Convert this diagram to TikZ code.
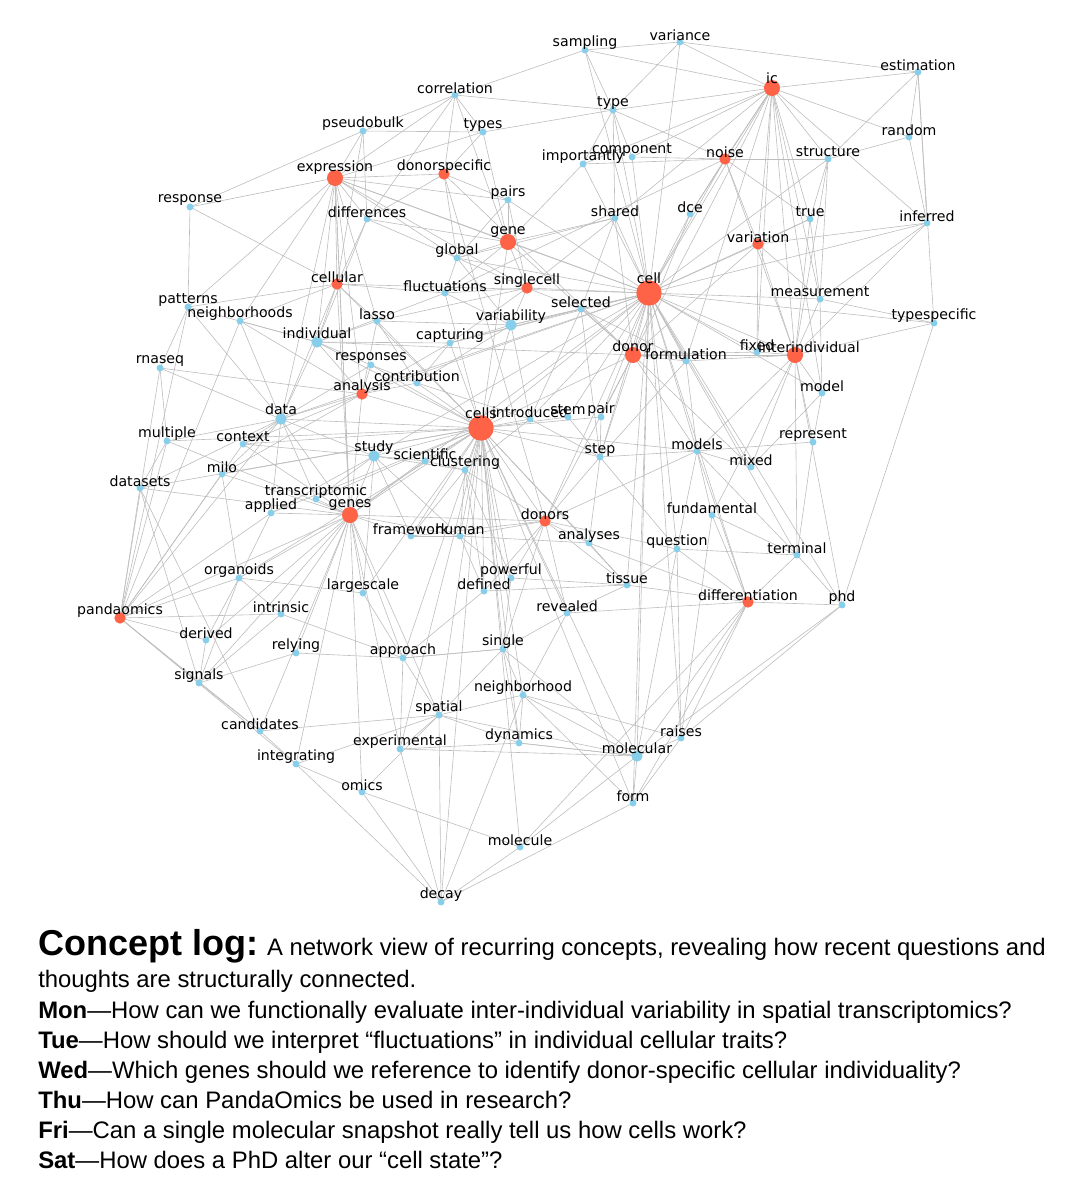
\documentclass[tikz,border=0pt]{standalone}
\usepackage{fontspec}
\setmainfont{Liberation Sans}
\newfontfamily\labfont{DejaVu Sans}
\usetikzlibrary{backgrounds}
\definecolor{sky}{HTML}{87CEEB}
\definecolor{tom}{HTML}{FF6347}
\definecolor{edg}{HTML}{BDBDBD}
\tikzset{
 b/.style={circle,fill=sky,inner sep=0pt,minimum size=5.2pt},
 bm/.style={circle,fill=sky,inner sep=0pt,minimum size=8.5pt},
 ra/.style={circle,fill=tom,inner sep=0pt,minimum size=8.5pt},
 rb/.style={circle,fill=tom,inner sep=0pt,minimum size=12pt},
 rc/.style={circle,fill=tom,inner sep=0pt,minimum size=19pt},
 lab/.style={font=\labfont\fontsize{10.6pt}{11pt}\selectfont,inner sep=0pt,text=black},
 edge/.style={draw=edg,line width=0.45pt},
 captext/.style={anchor=base west,inner sep=0pt,font=\fontsize{17.9pt}{20pt}\selectfont}
}
\newcommand\N[5]{\node[#4] (#1) at (#2,#3+7) {}; \node[lab] (#1l) at (#2,#3) {#5};}
\newcommand\M[7]{\node[#4] (#1) at (#2,#3) {}; \node[lab] (#1l) at (#6,#7) {#5};}
\begin{document}
\begin{tikzpicture}[x=0.75pt,y=-0.75pt]
\path[use as bounding box] (0,0) rectangle (1086,1200);
\N{sampling}{585}{43}{b}{sampling}
\N{variance}{680}{35}{b}{variance}
\N{estimation}{918}{65}{b}{estimation}
\M{ic}{772}{88}{rb}{ic}{772}{78}
\N{correlation}{455}{88}{b}{correlation}
\N{type}{613}{103}{b}{type}
\N{random}{909}{130}{b}{random}
\N{pseudobulk}{363}{124}{b}{pseudobulk}
\N{types}{483}{125}{b}{types}
\N{component}{632}{150}{b}{component}
\N{importantly}{583}{157}{b}{importantly}
\N{noise}{725}{152}{ra}{noise}
\N{structure}{828}{152}{b}{structure}
\M{expression}{335}{178}{rb}{expression}{335}{168}
\N{donorspecific}{444}{167}{ra}{donorspecific}
\N{response}{190}{200}{b}{response}
\N{pairs}{508}{193}{b}{pairs}
\N{shared}{615}{211}{b}{shared}
\N{dce}{690}{207}{b}{dce}
\N{true}{810}{212}{b}{true}
\N{inferred}{927}{216}{b}{inferred}
\N{differences}{367}{212}{b}{differences}
\M{gene}{508}{242}{rb}{gene}{508}{232}
\N{variation}{758}{237}{ra}{variation}
\N{global}{457}{251}{b}{global}
\N{cellular}{337}{277}{ra}{cellular}
\N{singlecell}{527}{281}{ra}{singlecell}
\M{cell}{649}{293}{rc}{cell}{649}{278}
\N{fluctuations}{445}{286}{b}{fluctuations}
\N{patterns}{188}{300}{b}{patterns}
\N{selected}{581}{302}{b}{selected}
\N{measurement}{820}{292}{b}{measurement}
\N{neighborhoods}{240}{314}{b}{neighborhoods}
\N{lasso}{377}{314}{b}{lasso}
\M{variability}{511}{325}{bm}{variability}{511}{317}
\N{typespecific}{934}{316}{b}{typespecific}
\M{individual}{317}{342}{bm}{individual}{317}{333}
\N{capturing}{450}{336}{b}{capturing}
\M{donor}{633}{355}{rb}{donor}{633}{346}
\N{formulation}{686}{354}{b}{formulation}
\N{fixed}{757}{345}{b}{fixed}
\M{interind}{795}{355}{rb}{interindividual}{809}{347}
\N{rnaseq}{160}{361}{b}{rnaseq}
\N{responses}{371}{358}{b}{responses}
\N{contribution}{417}{376}{b}{contribution}
\N{analysis}{362}{387}{ra}{analysis}
\N{model}{822}{386}{b}{model}
\M{data}{281}{419}{bm}{data}{281}{409}
\M{cells}{481}{428}{rc}{cells}{481}{413}
\N{introduced}{530}{412}{b}{introduced}
\N{stem}{568}{410}{b}{stem}
\N{pair}{601}{410}{b}{pair}
\N{multiple}{167}{434}{b}{multiple}
\N{context}{243}{437}{b}{context}
\N{represent}{813}{435}{b}{represent}
\M{study}{374}{456}{bm}{study}{374}{448}
\N{scientific}{425}{454}{b}{scientific}
\N{clustering}{465}{463}{b}{clustering}
\N{step}{600}{450}{b}{step}
\N{models}{697}{444}{b}{models}
\N{mixed}{751}{460}{b}{mixed}
\N{milo}{222}{467}{b}{milo}
\N{datasets}{140}{481}{b}{datasets}
\N{transcriptomic}{316}{492}{b}{transcriptomic}
\N{applied}{271}{506}{b}{applied}
\M{genes}{350}{515}{rb}{genes}{350}{505}
\N{donors}{545}{514}{ra}{donors}
\N{fundamental}{712}{508}{b}{fundamental}
\N{framework}{411}{529}{b}{framework}
\N{human}{460}{529}{b}{human}
\N{analyses}{589}{536}{b}{analyses}
\N{question}{677}{542}{b}{question}
\N{terminal}{797}{548}{b}{terminal}
\N{organoids}{239}{571}{b}{organoids}
\N{powerful}{511}{571}{b}{powerful}
\N{largescale}{363}{586}{b}{largescale}
\N{defined}{484}{584}{b}{defined}
\N{tissue}{627}{578}{b}{tissue}
\N{differentiation}{748}{595}{ra}{differentiation}
\N{phd}{842}{598}{b}{phd}
\N{pandaomics}{120}{611}{ra}{pandaomics}
\N{intrinsic}{281}{607}{b}{intrinsic}
\N{revealed}{567}{606}{b}{revealed}
\N{derived}{206}{633}{b}{derived}
\N{relying}{296}{646}{b}{relying}
\N{approach}{403}{651}{b}{approach}
\N{single}{503}{642}{b}{single}
\N{signals}{199}{676}{b}{signals}
\N{neighborhood}{523}{688}{b}{neighborhood}
\N{spatial}{439}{708}{b}{spatial}
\N{candidates}{260}{724}{b}{candidates}
\N{raises}{681}{731}{b}{raises}
\N{experimental}{400}{742}{b}{experimental}
\N{dynamics}{519}{736}{b}{dynamics}
\M{molecular}{637}{756}{bm}{molecular}{637}{748}
\N{integrating}{296}{757}{b}{integrating}
\N{omics}{362}{785}{b}{omics}
\N{form}{633}{796}{b}{form}
\N{molecule}{520}{840}{b}{molecule}
\N{decay}{441}{895}{b}{decay}
\begin{scope}[on background layer]
\foreach \h/\l in {
cell/{ic,noise,variation,donor,interind,cells,gene,singlecell,type,variance,sampling,selected,measurement,formulation,fixed,dce,shared,true,structure,step,models,model,mixed,donors,tissue,differentiation,phd,molecular,raises,question,capturing,variability,cellular,expression,data,analysis,study,genes,terminal,typespecific,inferred,component,importantly,pairs,stem,pair,introduced,global,form},
cells/{data,analysis,study,clustering,scientific,genes,donors,introduced,stem,pair,step,human,framework,transcriptomic,context,multiple,datasets,milo,single,spatial,powerful,defined,revealed,molecular,dynamics,form,neighborhood,cellular,individual,gene,donor,variability,lasso,fluctuations,responses,contribution,capturing,applied,organoids,largescale,approach,experimental,molecule,decay,analyses,models,tissue},
ic/{variance,estimation,random,structure,noise,type,sampling,true,inferred,variation,measurement,component,dce,importantly,shared,interind,model,donor,formulation,fixed},
expression/{pseudobulk,donorspecific,differences,response,cellular,gene,genes,data,correlation,types,individual,neighborhoods,patterns,lasso,analysis,global,pairs,singlecell},
genes/{data,analysis,applied,transcriptomic,study,pandaomics,organoids,intrinsic,relying,largescale,framework,human,derived,signals,candidates,approach,spatial,integrating,experimental,omics,milo,datasets,context,multiple,cellular,expression,donors,scientific},
donor/{donorspecific,donors,formulation,fixed,interind,gene,variation,selected,models,mixed,step,shared,dce,individual,pair},
interind/{variation,fixed,model,represent,mixed,measurement,typespecific,true,inferred,noise,structure,models,fundamental,terminal,phd,formulation},
differentiation/{phd,terminal,question,fundamental,tissue,raises,molecular,form,revealed,analyses,models,molecule},
pandaomics/{datasets,multiple,rnaseq,signals,derived,candidates,organoids,intrinsic,applied,data,integrating,patterns,neighborhoods,context,milo},
donors/{analyses,human,framework,powerful,defined,tissue,question,revealed,single,clustering,step,models,donorspecific},
analysis/{responses,contribution,data,lasso,individual,capturing,neighborhoods,rnaseq,milo,context},
gene/{global,pairs,differences,importantly,shared,types,correlation,singlecell,fluctuations},
singlecell/{fluctuations,selected,variability,capturing,lasso,global,shared,pairs},
noise/{variation,component,structure,type,importantly,true,dce,fluctuations},
variation/{true,inferred,measurement,fixed},
cellular/{individual,neighborhoods,patterns,fluctuations,lasso,differences,pseudobulk,response,data},
donorspecific/{pairs,types,correlation,global,differences},
molecular/{form,raises,dynamics,neighborhood,molecule,spatial,experimental,single,question,phd},
decay/{omics,molecule,experimental,integrating,spatial,form,neighborhood},
single/{neighborhood,spatial,approach,revealed,powerful,dynamics},
sampling/{variance,type,correlation},
variance/{estimation,type},
estimation/{random,inferred,typespecific},
random/{inferred},
phd/{terminal,typespecific,raises},
response/{patterns,pseudobulk},
rnaseq/{patterns,multiple},
datasets/{multiple,candidates,signals},
candidates/{integrating},
integrating/{omics},
omics/{molecule},
experimental/{dynamics},
dynamics/{molecular},
question/{terminal},
represent/{model},
model/{mixed},
models/{mixed},
data/{context,multiple,milo,datasets,neighborhoods,individual,transcriptomic,applied,study,responses,rnaseq,patterns},
study/{scientific,clustering,transcriptomic,framework,human,context,largescale,applied},
individual/{neighborhoods,lasso,responses,differences,patterns,capturing,fluctuations},
variability/{capturing,fluctuations,selected,introduced,contribution,global,lasso},
step/{pair,stem,models,analyses,question,introduced,selected,formulation},
models/{fundamental,question,represent,formulation,terminal},
tissue/{analyses,revealed,question,powerful,defined},
approach/{largescale,relying,single,spatial,intrinsic,experimental,defined},
spatial/{experimental,neighborhood,dynamics,integrating,candidates,omics},
signals/{derived,candidates,organoids,intrinsic,relying},
organoids/{intrinsic,largescale,derived,applied,milo},
neighborhood/{dynamics,raises,revealed,form},
raises/{form,question,fundamental},
terminal/{fundamental,represent},
measurement/{typespecific,true,model,inferred,structure},
structure/{true,random,estimation},
type/{types,component,importantly,correlation,shared},
correlation/{pseudobulk,types,differences},
pseudobulk/{differences,types},
global/{fluctuations,differences,pairs,shared},
selected/{shared,formulation,capturing,introduced},
clustering/{scientific,human,framework,introduced,defined,powerful},
human/{framework,powerful,defined,analyses},
contribution/{responses,capturing,lasso,introduced}}
{\foreach \t in \l {\draw[edge] (\h.center) -- (\t.center);}}
\end{scope}
\node[captext] (c0) at (38,955) {{\fontsize{27pt}{30pt}\selectfont\bfseries Concept log:} A network view of recurring concepts, revealing how recent questions and};
\node[captext] (c1) at (38,987) {thoughts are structurally connected.};
\node[captext] (c2) at (38,1018) {\textbf{Mon}—How can we functionally evaluate inter-individual variability in spatial transcriptomics?};
\node[captext] (c3) at (38,1048) {\textbf{Tue}—How should we interpret “fluctuations” in individual cellular traits?};
\node[captext] (c4) at (38,1078) {\textbf{Wed}—Which genes should we reference to identify donor-specific cellular individuality?};
\node[captext] (c5) at (38,1108) {\textbf{Thu}—How can PandaOmics be used in research?};
\node[captext] (c6) at (38,1138) {\textbf{Fri}—Can a single molecular snapshot really tell us how cells work?};
\node[captext] (c7) at (38,1168) {\textbf{Sat}—How does a PhD alter our “cell state”?};
\end{tikzpicture}
\end{document}
